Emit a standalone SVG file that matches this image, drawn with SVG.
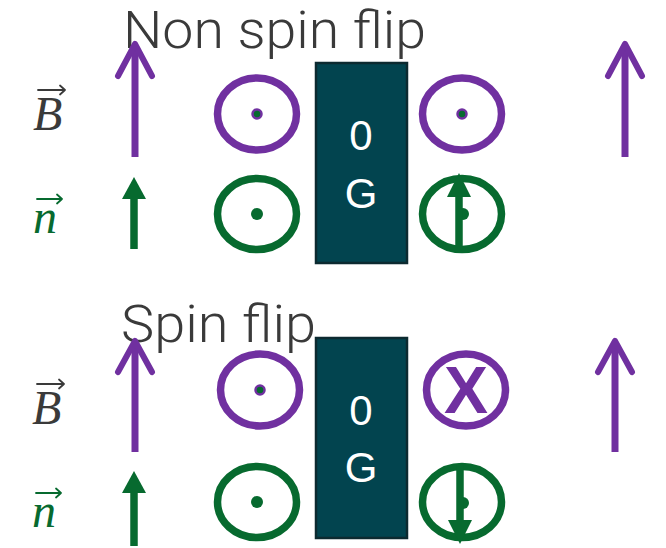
<svg xmlns="http://www.w3.org/2000/svg" width="666" height="548" viewBox="0 0 666 548">
<style>
.title{font-family:Roboto,"Liberation Sans",sans-serif;font-weight:300;font-size:51px;fill:#3a3a3a}
.gauge{font-family:"Liberation Sans",Arial,sans-serif;font-size:42px;fill:#ffffff;text-anchor:middle}
.sym{font-family:"Liberation Serif","DejaVu Serif",serif;font-style:italic;font-size:48px}
.box{fill:#02444f;stroke:#0c2a30;stroke-width:2.5}
.pring{fill:none;stroke:#7030a0;stroke-width:7.5}
.gring{fill:none;stroke:#076a2f;stroke-width:7.5}
.pshaft{stroke:#7030a0;stroke-width:7;fill:none}
.phead{stroke:#7030a0;stroke-width:6;fill:none;stroke-linecap:round;stroke-linejoin:round}
.gshaft{stroke:#076a2f;stroke-width:7.5;fill:none}
.ghead{fill:#076a2f}
.gdot{fill:#076a2f}
.pdot{fill:#076a2f;stroke:#7030a0;stroke-width:2.5}
.vec{stroke-width:1.8;fill:none;stroke-linecap:round;stroke-linejoin:round}
</style>

<!-- Top: Non spin flip -->
<g id="title-top"><text class="title" x="123" y="48" textLength="303" lengthAdjust="spacingAndGlyphs">Non spin flip</text></g>

<g id="label-B-top">
<text class="sym" x="33" y="130" fill="#3a3a3a">B</text>
<path class="vec" stroke="#3a3a3a" d="M38,90 H65 M60,85.5 L65,90 L60,94.5"/>
</g>
<g id="label-n-top">
<text class="sym" x="33" y="233" fill="#076a2f">n</text>
<path class="vec" stroke="#076a2f" d="M37,199 H62 M57,194.5 L62,199 L57,203.5"/>
</g>

<g id="B-arrow-left-top">
<line class="pshaft" x1="135" y1="157" x2="135" y2="46"/>
<path class="phead" d="M118,76 L135,44 L152,76"/>
</g>
<g id="n-arrow-left-top">
<line class="gshaft" x1="134" y1="249" x2="134" y2="196"/>
<polygon class="ghead" points="134,177 146,199 122,199"/>
</g>

<g id="B-ring-left-top">
<ellipse class="pring" cx="257" cy="114" rx="39.5" ry="36"/>
<circle class="pdot" cx="257" cy="114" r="4.5"/>
</g>
<g id="n-ring-left-top">
<ellipse class="gring" cx="257" cy="214" rx="39.5" ry="35.5"/>
<circle class="gdot" cx="257" cy="214" r="6"/>
</g>

<g id="box-top">
<rect class="box" x="316" y="63" width="91" height="200"/>
<text class="gauge" x="361" y="150">0</text>
<text class="gauge" x="361" y="208">G</text>
</g>

<g id="B-ring-right-top">
<ellipse class="pring" cx="462" cy="114" rx="39.5" ry="36"/>
<circle class="pdot" cx="462" cy="114" r="4.5"/>
</g>
<g id="n-ring-right-top">
<ellipse class="gring" cx="462" cy="214" rx="39.5" ry="35.5"/>
<circle class="gdot" cx="463" cy="214" r="6"/>
<line class="gshaft" x1="459" y1="247" x2="459" y2="192"/>
<polygon class="ghead" points="459,173 471,197 447,197"/>
</g>

<g id="B-arrow-right-top">
<line class="pshaft" x1="625" y1="157" x2="625" y2="46"/>
<path class="phead" d="M608,76 L625,44 L642,76"/>
</g>

<!-- Bottom: Spin flip -->
<g id="title-bottom"><text class="title" x="121" y="342" textLength="195" lengthAdjust="spacingAndGlyphs">Spin flip</text></g>

<g id="label-B-bottom">
<text class="sym" x="32" y="424" fill="#3a3a3a">B</text>
<path class="vec" stroke="#3a3a3a" d="M37,384 H64 M59,379.5 L64,384 L59,388.5"/>
</g>
<g id="label-n-bottom">
<text class="sym" x="32" y="527" fill="#076a2f">n</text>
<path class="vec" stroke="#076a2f" d="M36,493 H61 M56,488.5 L61,493 L56,497.5"/>
</g>

<g id="B-arrow-left-bottom">
<line class="pshaft" x1="135" y1="452" x2="135" y2="343"/>
<path class="phead" d="M118,372 L135,341 L152,372"/>
</g>
<g id="n-arrow-left-bottom">
<line class="gshaft" x1="134" y1="546" x2="134" y2="490"/>
<polygon class="ghead" points="134,471 146,493 122,493"/>
</g>

<g id="B-ring-left-bottom">
<ellipse class="pring" cx="260" cy="390" rx="39.5" ry="36"/>
<circle class="pdot" cx="260" cy="390" r="4.5"/>
</g>
<g id="n-ring-left-bottom">
<ellipse class="gring" cx="257" cy="502" rx="39.5" ry="35.5"/>
<circle class="gdot" cx="257" cy="502" r="6"/>
</g>

<g id="box-bottom">
<rect class="box" x="316" y="338" width="91" height="200"/>
<text class="gauge" x="361" y="425">0</text>
<text class="gauge" x="361" y="482">G</text>
</g>

<g id="B-ring-right-bottom">
<ellipse class="pring" cx="466" cy="390" rx="39.5" ry="36"/>
<text x="466" y="413" text-anchor="middle" font-family="Liberation Sans,Arial,sans-serif" font-weight="bold" font-size="66" fill="#7030a0">X</text>
</g>
<g id="n-ring-right-bottom">
<ellipse class="gring" cx="462" cy="502" rx="39.5" ry="35.5"/>
<circle class="gdot" cx="463" cy="503" r="6"/>
<line class="gshaft" x1="460" y1="465" x2="460" y2="525"/>
<polygon class="ghead" points="460,544 472,520 448,520"/>
</g>

<g id="B-arrow-right-bottom">
<line class="pshaft" x1="615" y1="452" x2="615" y2="343"/>
<path class="phead" d="M598,372 L615,341 L632,372"/>
</g>

<g id="connectors"></g>
</svg>
